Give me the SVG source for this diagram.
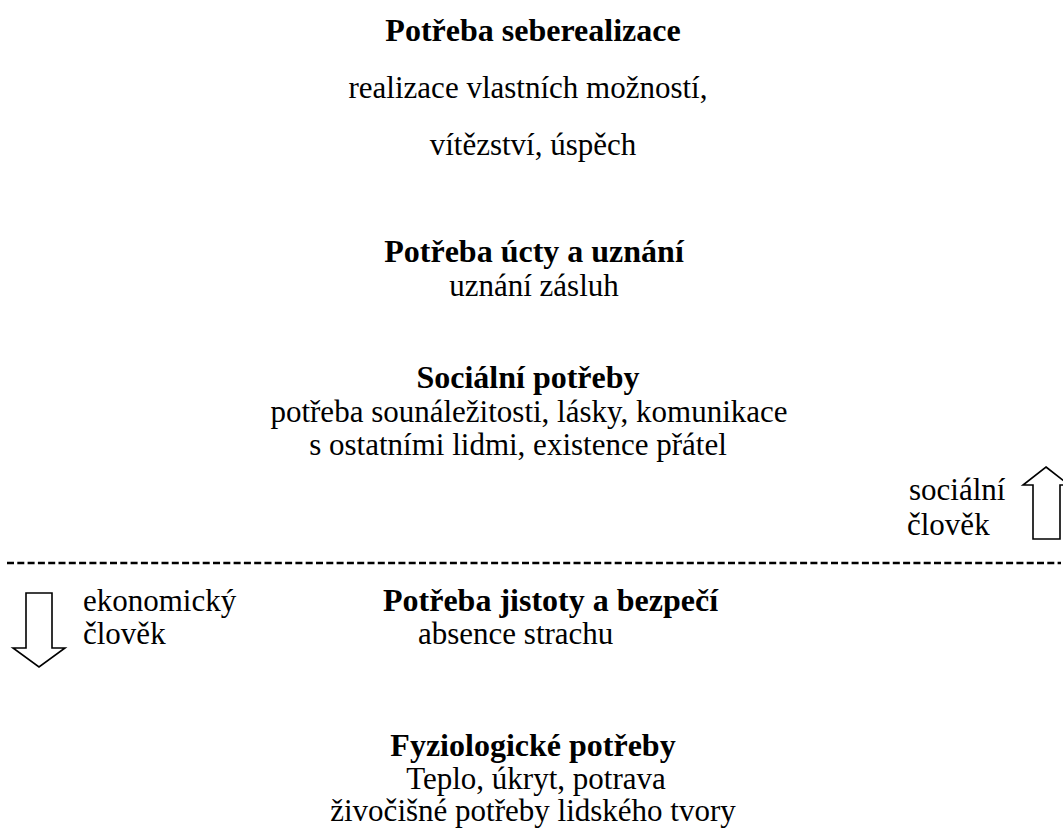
<svg xmlns="http://www.w3.org/2000/svg" width="1063" height="834" viewBox="0 0 1063 834">
<style>
text{font-family:"Liberation Serif","Times New Roman",serif;fill:#000;font-size:31px}
.c{text-anchor:middle}
.b{font-weight:bold;font-size:32px}
.arrow{fill:#fff;stroke:#000;stroke-width:1.6;stroke-linejoin:miter}
.divider{stroke:#000;stroke-width:2.6;stroke-dasharray:7 3.3}
</style>
<rect width="1063" height="834" fill="#fff"/>
<g id="self-actualization">
<text class="c b" x="533" y="41">Potřeba seberealizace</text>
<text class="c" x="528" y="98">realizace vlastních možností,</text>
<text class="c" x="533" y="155">vítězství, úspěch</text>
</g>
<g id="esteem">
<text class="c b" x="534" y="262">Potřeba úcty a uznání</text>
<text class="c" x="534" y="296">uznání zásluh</text>
</g>
<g id="social">
<text class="c b" x="528" y="388">Sociální potřeby</text>
<text class="c" x="529" y="422">potřeba sounáležitosti, lásky, komunikace</text>
<text class="c" x="518" y="455">s ostatními lidmi, existence přátel</text>
</g>
<g id="social-man">
<text x="909" y="500">sociální</text>
<text x="907" y="535">člověk</text>
</g>
<g id="economic-man">
<text x="83" y="611">ekonomický</text>
<text x="83" y="644">člověk</text>
</g>
<g id="safety">
<text class="b" x="383" y="611">Potřeba jistoty a bezpečí</text>
<text x="418" y="644">absence strachu</text>
</g>
<g id="physiological">
<text class="c b" x="533" y="756">Fyziologické potřeby</text>
<text class="c" x="536" y="789">Teplo, úkryt, potrava</text>
<text class="c" x="533" y="821">živočišné potřeby lidského tvory</text>
</g>
<g id="connectors">
<line class="divider" x1="7" y1="563" x2="1061" y2="563"/>
<polygon class="arrow" points="1046,467 1069,485 1060,485 1060,539 1033,539 1033,485 1023,485"/>
<polygon class="arrow" points="26,593 52,593 52,648 65,648 39,667 13,648 26,648"/>
</g>
</svg>
